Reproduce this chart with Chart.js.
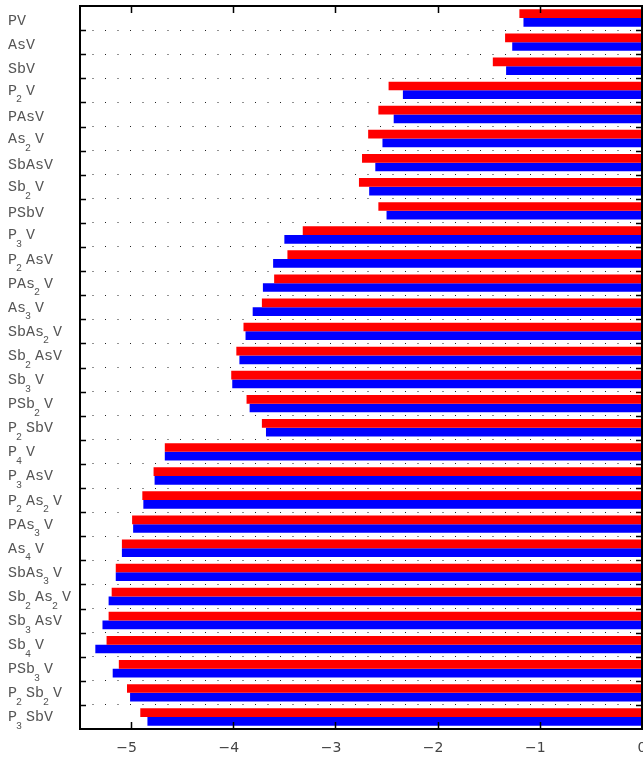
<!DOCTYPE html>
<html>
<head>
<meta charset="utf-8">
<script src="https://cdn.jsdelivr.net/npm/chart.js@4/dist/chart.umd.min.js"></script>
<style>
  html, body { margin: 0; padding: 0; background: #fff; }
  #wrap { width: 643px; height: 758px; }
</style>
</head>
<body>
<div id="wrap"><canvas id="c" width="643" height="758"></canvas></div>
<script>
const categories = ['PV','AsV','SbV','P₂V','PAsV','As₂V','SbAsV','Sb₂V','PSbV','P₃V','P₂AsV','PAs₂V','As₃V','SbAs₂V','Sb₂AsV','Sb₃V','PSb₂V','P₂SbV','P₄V','P₃AsV','P₂As₂V','PAs₃V','As₄V','SbAs₃V','Sb₂As₂V','Sb₃AsV','Sb₄V','PSb₃V','P₂Sb₂V','P₃SbV'];
const redValues = [-1.20,-1.34,-1.46,-2.48,-2.58,-2.68,-2.74,-2.77,-2.58,-3.32,-3.47,-3.60,-3.72,-3.90,-3.97,-4.02,-3.87,-3.72,-4.67,-4.78,-4.89,-4.99,-5.09,-5.15,-5.19,-5.22,-5.24,-5.12,-5.04,-4.91];
const blueValues = [-1.16,-1.27,-1.33,-2.34,-2.43,-2.54,-2.61,-2.67,-2.50,-3.50,-3.61,-3.71,-3.81,-3.88,-3.94,-4.01,-3.84,-3.68,-4.67,-4.77,-4.88,-4.98,-5.09,-5.15,-5.22,-5.28,-5.35,-5.18,-5.01,-4.84];
const xTickValues = [-5,-4,-3,-2,-1,0];
const xMin = -5.5, xMax = 0;

const SUBS = {'₀':'0','₁':'1','₂':'2','₃':'3','₄':'4','₅':'5','₆':'6','₇':'7','₈':'8','₉':'9'};

const framePlugin = {
  id: 'frame',
  afterDraw(chart) {
    const ctx = chart.ctx;
    const a = chart.chartArea;
    const xs = chart.scales.x, ys = chart.scales.y;
    ctx.save();
    ctx.strokeStyle = '#000';
    ctx.lineWidth = 2;
    ctx.strokeRect(a.left, a.top, a.right - a.left, a.bottom - a.top);
    ctx.lineWidth = 1.5;
    ctx.beginPath();
    xTickValues.forEach(v => {
      const px = Math.round(xs.getPixelForValue(v)) + 0.5;
      ctx.moveTo(px, a.bottom); ctx.lineTo(px, a.bottom - 7);
      ctx.moveTo(px, a.top); ctx.lineTo(px, a.top + 7);
    });
    for (let i = 1; i < categories.length; i++) {
      const py = Math.round((ys.getPixelForValue(i - 1) + ys.getPixelForValue(i)) / 2) + 0.5;
      ctx.moveTo(a.left, py); ctx.lineTo(a.left + 6, py);
      ctx.moveTo(a.right, py); ctx.lineTo(a.right - 6, py);
    }
    ctx.stroke();

    const normalFont = '15px "Liberation Mono", "DejaVu Sans Mono", monospace';
    const subFont = '10px "Liberation Mono", "DejaVu Sans Mono", monospace';
    ctx.fillStyle = '#555';
    ctx.textBaseline = 'middle';
    ctx.textAlign = 'left';
    ctx.font = normalFont;
    const cellW = ctx.measureText('M').width;
    categories.forEach((lab, i) => {
      const cy = ys.getPixelForValue(i);
      const chars = Array.from(lab);
      const hasSub = chars.some(c => SUBS[c]);
      const mainY = hasSub ? cy + 0.5 : cy + 2.5;
      let x = 8;
      chars.forEach(c => {
        if (SUBS[c]) {
          ctx.font = subFont;
          ctx.fillText(SUBS[c], x - 1, mainY + 9);
          ctx.font = normalFont;
        } else {
          ctx.fillText(c, x, mainY);
        }
        x += cellW;
      });
    });
    ctx.restore();
  }
};

new Chart(document.getElementById('c'), {
  type: 'bar',
  data: {
    labels: categories,
    datasets: [
      { data: redValues, backgroundColor: '#ff0000', borderWidth: 0 },
      { data: blueValues, backgroundColor: '#0000ff', borderWidth: 0 }
    ]
  },
  options: {
    indexAxis: 'y',
    responsive: false,
    animation: false,
    events: [],
    categoryPercentage: 0.72,
    barPercentage: 1.0,
    layout: { padding: { top: 6, right: 1, left: 0, bottom: 0 } },
    plugins: { legend: { display: false }, tooltip: { enabled: false } },
    scales: {
      x: {
        type: 'linear',
        min: xMin, max: xMax,
        grid: { display: false, drawTicks: false },
        border: { display: false },
        afterBuildTicks(scale) { scale.ticks = xTickValues.map(v => ({ value: v })); },
        ticks: {
          includeBounds: false,
          padding: 11,
          color: '#444',
          font: { family: '"DejaVu Sans", sans-serif', size: 14 },
          callback: v => (v < 0 ? String(v).replace('-', '\u2212') + '  ' : String(v))
        },
        afterFit(scale) { scale.height = 29; scale.paddingLeft = 0; scale.paddingRight = 0; }
      },
      y: {
        type: 'category',
        grid: { display: true, offset: true, drawTicks: false, color: '#222', lineWidth: 1 },
        border: { display: false, dash: [1, 11.5] },
        ticks: { display: false },
        afterFit(scale) { scale.width = 80; }
      }
    }
  },
  plugins: [framePlugin]
});
</script>
</body>
</html>
